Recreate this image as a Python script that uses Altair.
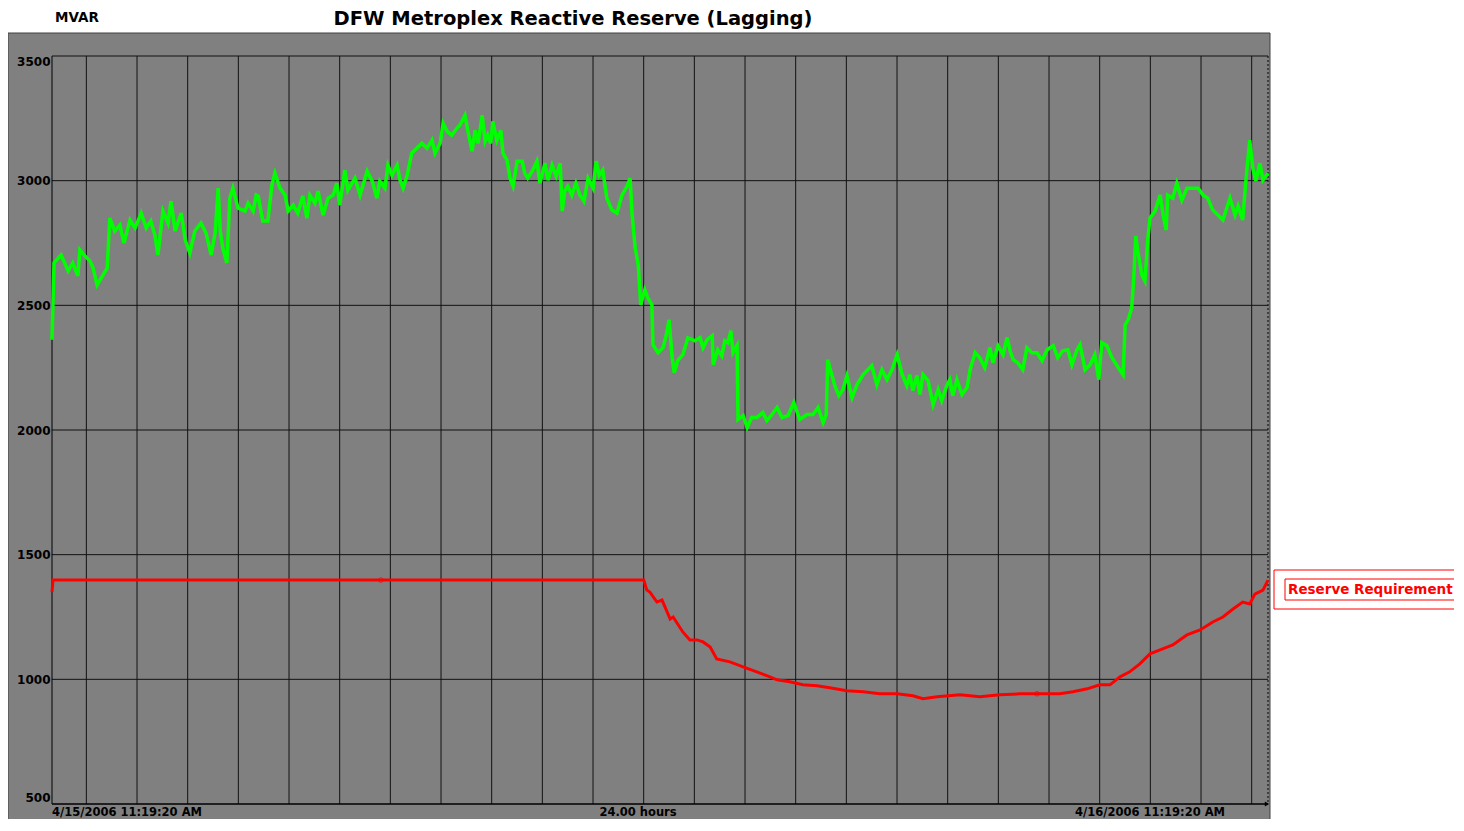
import altair as alt
import pandas as pd

# ---- data (hours since 4/15/2006 11:19:20 AM, MVAR) ----
green_h = [0.00, 0.04, 0.18, 0.32, 0.41, 0.51, 0.55, 0.65, 0.75, 0.81, 0.89, 1.01, 1.09, 1.14, 1.24, 1.34,
           1.42, 1.54, 1.64, 1.76, 1.86, 1.95, 2.03, 2.09, 2.19, 2.29, 2.35, 2.43, 2.55, 2.63, 2.72, 2.82,
           2.94, 3.04, 3.14, 3.22, 3.28, 3.32, 3.37, 3.45, 3.51, 3.57, 3.67, 3.81, 3.87, 3.97, 4.03, 4.07,
           4.16, 4.26, 4.34, 4.40, 4.50, 4.60, 4.66, 4.76, 4.85, 4.95, 5.03, 5.09, 5.19, 5.25, 5.35, 5.45,
           5.55, 5.62, 5.68, 5.78, 5.84, 5.98, 6.08, 6.22, 6.32, 6.41, 6.47, 6.57, 6.63, 6.71, 6.81, 6.87,
           6.93, 7.01, 7.10, 7.20, 7.30, 7.40, 7.50, 7.56, 7.66, 7.72, 7.80, 7.89, 7.99, 8.05, 8.15, 8.21,
           8.29, 8.35, 8.41, 8.49, 8.55, 8.60, 8.66, 8.70, 8.78, 8.86, 8.90, 8.98, 9.04, 9.10, 9.18, 9.28,
           9.33, 9.39, 9.49, 9.57, 9.63, 9.73, 9.79, 9.87, 9.95, 10.03, 10.07, 10.12, 10.18, 10.26, 10.34,
           10.42, 10.50, 10.58, 10.68, 10.74, 10.80, 10.87, 10.95, 11.05, 11.15, 11.25, 11.35, 11.41, 11.45,
           11.51, 11.57, 11.62, 11.70, 11.76, 11.84, 11.86, 11.96, 12.06, 12.12, 12.18, 12.24, 12.28, 12.35,
           12.45, 12.55, 12.69, 12.79, 12.85, 12.93, 13.03, 13.05, 13.14, 13.22, 13.28, 13.34, 13.40, 13.44,
           13.52, 13.54, 13.64, 13.72, 13.81, 13.91, 14.03, 14.11, 14.21, 14.31, 14.41, 14.53, 14.64, 14.76,
           14.90, 15.02, 15.12, 15.22, 15.28, 15.31, 15.39, 15.45, 15.53, 15.61, 15.69, 15.79, 15.89, 16.01,
           16.18, 16.28, 16.38, 16.48, 16.58, 16.68, 16.78, 16.87, 16.93, 16.99, 17.07, 17.13, 17.19, 17.29,
           17.39, 17.49, 17.56, 17.66, 17.72, 17.78, 17.86, 17.96, 18.06, 18.12, 18.22, 18.31, 18.41, 18.51,
           18.57, 18.67, 18.77, 18.85, 18.91, 18.97, 19.06, 19.16, 19.24, 19.34, 19.44, 19.54, 19.64, 19.76,
           19.85, 19.95, 20.05, 20.13, 20.23, 20.29, 20.39, 20.49, 20.58, 20.66, 20.72, 20.82, 20.92, 21.02,
           21.14, 21.18, 21.24, 21.31, 21.35, 21.39, 21.43, 21.51, 21.57, 21.63, 21.67, 21.77, 21.87, 21.93,
           21.99, 22.02, 22.12, 22.20, 22.30, 22.40, 22.52, 22.62, 22.72, 22.81, 22.91, 23.01, 23.11, 23.25,
           23.35, 23.41, 23.50, 23.54, 23.58, 23.64, 23.70, 23.76, 23.84, 23.90, 24.00]
green_v = [2362, 2670, 2702, 2638, 2670, 2618, 2722, 2698, 2678, 2650, 2582, 2622, 2650, 2850, 2798, 2822,
           2750, 2842, 2810, 2870, 2810, 2838, 2782, 2702, 2878, 2830, 2918, 2798, 2870, 2762, 2710, 2798,
           2830, 2790, 2702, 2790, 2970, 2798, 2730, 2670, 2930, 2970, 2890, 2878, 2910, 2878, 2942, 2938,
           2838, 2838, 2982, 3030, 2970, 2942, 2878, 2902, 2870, 2938, 2850, 2942, 2910, 2958, 2862, 2930,
           2942, 2990, 2902, 3042, 2962, 3010, 2942, 3038, 2998, 2930, 2998, 2970, 3062, 3022, 3062, 3002,
           2970, 3022, 3110, 3130, 3150, 3130, 3162, 3110, 3150, 3230, 3198, 3182, 3210, 3222, 3262, 3198,
           3118, 3202, 3150, 3262, 3158, 3182, 3150, 3238, 3162, 3202, 3110, 3082, 3010, 2978, 3078, 3078,
           3030, 3010, 3042, 3078, 2990, 3070, 3002, 3062, 3018, 3070, 2878, 2958, 2978, 2942, 2990,
           2942, 2918, 3010, 2970, 3078, 3022, 3042, 2930, 2882, 2870, 2942, 2978, 3010, 2862,
           2730, 2662, 2502, 2562, 2530, 2502, 2342, 2310, 2330, 2378, 2442, 2290, 2230, 2278,
           2302, 2370, 2358, 2370, 2330, 2362, 2378, 2262, 2322, 2298, 2358, 2350, 2398, 2310,
           2338, 2042, 2058, 2010, 2050, 2050, 2070, 2038, 2062, 2090, 2050, 2058, 2110, 2042,
           2062, 2062, 2090, 2030, 2062, 2282, 2222, 2178, 2138, 2162, 2218, 2130, 2182, 2222,
           2258, 2182, 2242, 2202, 2242, 2302, 2222, 2178, 2222, 2158, 2218, 2142, 2222, 2198,
           2102, 2162, 2118, 2178, 2202, 2138, 2202, 2142, 2170, 2242, 2310, 2290, 2250, 2330,
           2270, 2338, 2302, 2370, 2318, 2282, 2270, 2242, 2330, 2310, 2310, 2278, 2322, 2338,
           2290, 2318, 2322, 2262, 2322, 2342, 2242, 2262, 2302, 2202, 2350, 2338, 2290, 2258,
           2222, 2422, 2442, 2490, 2610, 2778, 2718, 2622, 2598, 2770, 2850, 2878, 2942, 2862,
           2802, 2942, 2930, 2990, 2922, 2970, 2970, 2970, 2942, 2930, 2882, 2862, 2842, 2930,
           2862, 2898, 2842, 2942, 3038, 3162, 3050, 2998, 3070, 3002, 3030]

red_h = [0.00, 0.02, 11.68, 11.74, 11.80, 11.94, 12.04, 12.10, 12.20, 12.26, 12.45, 12.59, 12.73, 12.85,
         12.99, 13.12, 13.38, 13.64, 13.91, 14.17, 14.31, 14.56, 14.82, 15.10, 15.35, 15.69, 16.01, 16.34,
         16.68, 16.99, 17.19, 17.47, 17.92, 18.31, 18.71, 19.10, 19.50, 19.89, 20.15, 20.43, 20.68, 20.88,
         21.08, 21.27, 21.47, 21.67, 21.87, 22.12, 22.40, 22.66, 22.91, 23.11, 23.31, 23.50, 23.64, 23.74,
         23.90, 24.00]
red_v = [1350, 1398, 1398, 1358, 1350, 1310, 1318, 1290, 1242, 1250, 1190, 1158, 1158, 1150,
         1130, 1082, 1070, 1050, 1030, 1010, 998, 990, 978, 974, 966, 954, 950, 942,
         942, 934, 922, 930, 938, 930, 938, 942, 942, 942, 950, 962, 978, 978,
         1010, 1030, 1062, 1102, 1118, 1138, 1178, 1198, 1230, 1250, 1282, 1310, 1302, 1342,
         1358, 1398]

red_marker_h = [6.49, 19.44]
red_marker_v = [1398, 942]

hour_grid = [0.678 + k for k in range(24)]
y_grid = [1000, 1500, 2000, 2500, 3000, 3500]
y_ticks = [500, 1000, 1500, 2000, 2500, 3000, 3500]

title_text = "DFW Metroplex Reactive Reserve (Lagging)"
unit_text = "MVAR"
start_label = "4/15/2006 11:19:20 AM"
span_label = "24.00 hours"
end_label = "4/16/2006 11:19:20 AM"
legend_label = "Reserve Requirement"

W, H = 1216, 748
TOP, BOTTOM = 48, 15
FONT = "DejaVu Sans"
OY = 8 + TOP  # page y of the plot top, used to place decorations


def py(page_y):
    """convert a page y (in the reference picture) to a view y"""
    return page_y - OY


xs = alt.Scale(domain=[0, 24], nice=False, zero=False)
ys = alt.Scale(domain=[500, 3500], nice=False, zero=False)

one = pd.DataFrame({"a": [0]})
green = pd.DataFrame({"h": green_h, "v": green_v})
red = pd.DataFrame({"h": red_h, "v": red_v})
marks_df = pd.DataFrame({"h": red_marker_h, "v": red_marker_v})
vgrid = pd.DataFrame({"h": hour_grid})
hgrid = pd.DataFrame({"v": y_grid})

# gray frame
frame = alt.Chart(one).mark_rect(fill="#808080", stroke="#404040", strokeWidth=1).encode(
    x=alt.value(-44), x2=alt.value(1218), y=alt.value(py(33)), y2=alt.value(H + BOTTOM + 2))

vlines = alt.Chart(vgrid).mark_rule(color="#111111", strokeWidth=1).encode(
    x=alt.X("h:Q", scale=xs, axis=None))
hlines = alt.Chart(hgrid).mark_rule(color="#111111", strokeWidth=1).encode(
    y=alt.Y("v:Q", scale=ys,
            axis=alt.Axis(values=y_ticks, format="d", grid=False, ticks=False, domain=False, title=None,
                          labelFont=FONT, labelFontWeight="bold", labelFontSize=12,
                          labelColor="black", labelPadding=2, labelFlush=True, zindex=1)))

left_edge = alt.Chart(one).mark_rule(color="black", strokeWidth=1).encode(x=alt.value(0))
bottom_edge = alt.Chart(one).mark_rule(color="black", strokeWidth=1.5).encode(y=alt.value(H))
right_edge = alt.Chart(one).mark_rule(color="black", strokeWidth=1, strokeDash=[2, 2]).encode(x=alt.value(W))
arrow = alt.Chart(one).mark_point(shape="triangle-right", filled=True, color="black", size=25, opacity=1).encode(
    x=alt.value(W - 1), y=alt.value(H))

green_line = alt.Chart(green).mark_line(color="#00FF00", strokeWidth=3.5, interpolate="linear").encode(
    x=alt.X("h:Q", scale=xs, axis=None), y=alt.Y("v:Q", scale=ys))
red_line = alt.Chart(red).mark_line(color="#FF0000", strokeWidth=3).encode(
    x=alt.X("h:Q", scale=xs, axis=None), y=alt.Y("v:Q", scale=ys))
red_pts = alt.Chart(marks_df).mark_point(shape="circle", filled=False, color="#FF0000", size=22, strokeWidth=1).encode(
    x=alt.X("h:Q", scale=xs, axis=None), y=alt.Y("v:Q", scale=ys))

lab = dict(font=FONT, fontWeight="bold", fontSize=11.5, color="black", baseline="alphabetic")
lab_start = alt.Chart(one).mark_text(align="left", text=start_label, **lab).encode(
    x=alt.value(0), y=alt.value(H + 12))
lab_span = alt.Chart(one).mark_text(align="center", text=span_label, **lab).encode(
    x=alt.value(586), y=alt.value(H + 12))
lab_end = alt.Chart(one).mark_text(align="right", text=end_label, **lab).encode(
    x=alt.value(1173), y=alt.value(H + 12))

title = alt.Chart(one).mark_text(align="center", baseline="middle", text=title_text, font=FONT,
                                 fontWeight="bold", fontSize=19.5, color="black").encode(
    x=alt.value(521), y=alt.value(py(19)))
unit = alt.Chart(one).mark_text(align="left", baseline="middle", text=unit_text, font=FONT,
                                fontWeight="bold", fontSize=13.5, color="black").encode(
    x=alt.value(3), y=alt.value(py(17.5)))

leg_outer = alt.Chart(one).mark_rect(fill="white", stroke="#FF0000", strokeWidth=1).encode(
    x=alt.value(1222), x2=alt.value(1413), y=alt.value(py(570)), y2=alt.value(py(609)))
leg_inner = alt.Chart(one).mark_rect(fill="white", stroke="#FF0000", strokeWidth=1).encode(
    x=alt.value(1233), x2=alt.value(1404), y=alt.value(py(579)), y2=alt.value(py(600)))
leg_text = alt.Chart(one).mark_text(align="left", baseline="middle", text=legend_label, font=FONT,
                                    fontWeight="bold", fontSize=13.5, color="#FF0000").encode(
    x=alt.value(1236), y=alt.value(py(590)))

chart = alt.layer(
    frame, vlines, hlines, left_edge, bottom_edge, right_edge, arrow,
    red_line, red_pts, green_line,
    lab_start, lab_span, lab_end, title, unit, leg_outer, leg_inner, leg_text
).properties(
    width=W, height=H,
    autosize=alt.AutoSizeParams(type="none"),
    padding={"left": 44, "top": TOP, "right": 186, "bottom": BOTTOM},
    background="white",
).configure_view(stroke=None, fill="#808080")

chart.save("out.html", embed_options={"renderer": "svg", "actions": False})
